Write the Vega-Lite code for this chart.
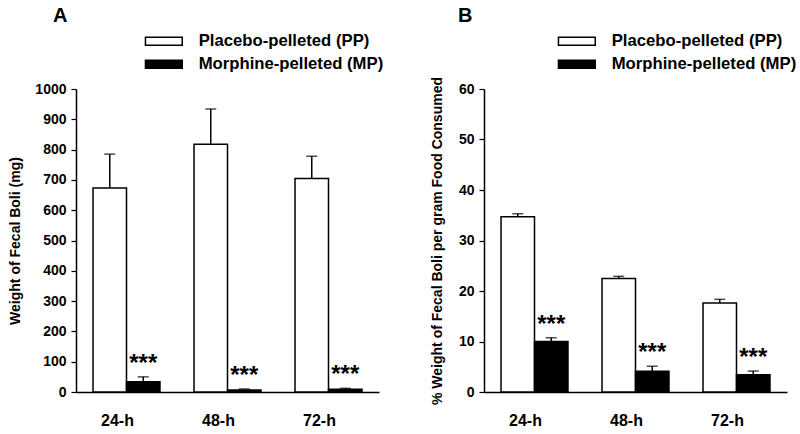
{
  "$schema": "https://vega.github.io/schema/vega-lite/v6.json",
  "background": "white",
  "padding": {"left": 8, "top": 6, "right": 5, "bottom": 0},
  "spacing": 46,
  "config": {
    "font": "Liberation Sans",
    "view": {"stroke": null},
    "axis": {"grid": false, "domainColor": "black", "domainWidth": 1.5, "tickColor": "black", "tickWidth": 1.2, "labelColor": "black", "titleColor": "black", "labelFontWeight": "bold", "titleFontWeight": "bold"},
    "legend": {"padding": 0, "labelFontSize": 16.7, "labelFontWeight": "bold", "labelColor": "black", "labelLimit": 0},
    "title": {"color": "black"}
  },
  "datasets": {
    "a": [
      {"time": "24-h", "group": "Placebo-pelleted (PP)", "value": 673, "err": 785, "sig": ""},
      {"time": "48-h", "group": "Placebo-pelleted (PP)", "value": 818, "err": 934, "sig": ""},
      {"time": "72-h", "group": "Placebo-pelleted (PP)", "value": 705, "err": 778, "sig": ""},
      {"time": "24-h", "group": "Morphine-pelleted (MP)", "value": 34, "err": 50, "sig": "***"},
      {"time": "48-h", "group": "Morphine-pelleted (MP)", "value": 7, "err": 10, "sig": "***"},
      {"time": "72-h", "group": "Morphine-pelleted (MP)", "value": 9, "err": 12, "sig": "***"}
    ],
    "b": [
      {"time": "24-h", "group": "Placebo-pelleted (PP)", "value": 34.7, "err": 35.3, "sig": ""},
      {"time": "48-h", "group": "Placebo-pelleted (PP)", "value": 22.5, "err": 22.9, "sig": ""},
      {"time": "72-h", "group": "Placebo-pelleted (PP)", "value": 17.6, "err": 18.35, "sig": ""},
      {"time": "24-h", "group": "Morphine-pelleted (MP)", "value": 10.0, "err": 10.75, "sig": "***"},
      {"time": "48-h", "group": "Morphine-pelleted (MP)", "value": 4.1, "err": 5.1, "sig": "***"},
      {"time": "72-h", "group": "Morphine-pelleted (MP)", "value": 3.4, "err": 4.15, "sig": "***"}
    ]
  },
  "resolve": {"scale": {"fill": "independent", "y": "independent"}, "legend": {"fill": "independent"}},
  "hconcat": [
    {
      "width": 303, "height": 303,
      "title": {"text": "A", "anchor": "start", "frame": "group", "fontSize": 20, "fontWeight": "bold", "dx": -23, "offset": 7},
      "data": {"name": "a"},
      "encoding": {
        "x": {"field": "time", "type": "nominal", "sort": null, "scale": {"paddingInner": 0.337, "paddingOuter": 0.1685},
              "axis": {"title": null, "labelAngle": 0, "ticks": false, "labelFontSize": 16, "labelPadding": 20, "labelOffset": -9}},
        "xOffset": {"field": "group", "type": "nominal", "sort": null, "scale": {"paddingInner": 0, "paddingOuter": 0}}
      },
      "layer": [
        {
          "mark": {"type": "bar", "stroke": "black", "strokeWidth": 1.5},
          "encoding": {
            "y": {"field": "value", "type": "quantitative", "scale": {"domain": [0, 1000], "nice": false},
                  "axis": {"title": "Weight of Fecal Boli (mg)", "titleFontSize": 14, "labelFontSize": 14, "format": "d", "tickCount": 10, "tickSize": 5, "labelPadding": 5, "titlePadding": 12}},
            "fill": {"field": "group", "type": "nominal", "sort": null,
                     "scale": {"domain": ["Placebo-pelleted (PP)", "Morphine-pelleted (MP)"], "range": ["white", "black"]},
                     "legend": {"title": null, "orient": "none", "legendX": 79.5, "legendY": -56, "symbolType": "M-4.6,-1H4.6V1H-4.6Z", "symbolSize": 64, "symbolStrokeColor": "black", "symbolStrokeWidth": 1.5, "labelOffset": 26.5, "rowPadding": 5}}
          }
        },
        {
          "mark": {"type": "rule", "color": "black", "strokeWidth": 1.5},
          "encoding": {"y": {"field": "value", "type": "quantitative"}, "y2": {"field": "err"}}
        },
        {
          "mark": {"type": "tick", "color": "black", "size": 11, "thickness": 1.5, "orient": "horizontal"},
          "encoding": {"y": {"field": "err", "type": "quantitative"}}
        },
        {
          "mark": {"type": "text", "fontSize": 24, "fontWeight": "bold", "baseline": "alphabetic", "dy": -6, "color": "black"},
          "encoding": {"y": {"field": "err", "type": "quantitative"}, "text": {"field": "sig"}}
        }
      ]
    },
    {
      "width": 303, "height": 303,
      "title": {"text": "B", "anchor": "start", "frame": "group", "fontSize": 20, "fontWeight": "bold", "dx": -26, "offset": 7},
      "data": {"name": "b"},
      "encoding": {
        "x": {"field": "time", "type": "nominal", "sort": null, "scale": {"paddingInner": 0.337, "paddingOuter": 0.1685},
              "axis": {"title": null, "labelAngle": 0, "ticks": false, "labelFontSize": 16, "labelPadding": 20, "labelOffset": -9}},
        "xOffset": {"field": "group", "type": "nominal", "sort": null, "scale": {"paddingInner": 0, "paddingOuter": 0}}
      },
      "layer": [
        {
          "mark": {"type": "bar", "stroke": "black", "strokeWidth": 1.5},
          "encoding": {
            "y": {"field": "value", "type": "quantitative", "scale": {"domain": [0, 60], "nice": false},
                  "axis": {"title": "% Weight of Fecal Boli per gram Food Consumed", "titleFontSize": 14, "labelFontSize": 14, "tickCount": 6, "tickSize": 5, "labelPadding": 5, "titlePadding": 14}},
            "fill": {"field": "group", "type": "nominal", "sort": null,
                     "scale": {"domain": ["Placebo-pelleted (PP)", "Morphine-pelleted (MP)"], "range": ["white", "black"]},
                     "legend": {"title": null, "orient": "none", "legendX": 84.5, "legendY": -56, "symbolType": "M-4.6,-1H4.6V1H-4.6Z", "symbolSize": 64, "symbolStrokeColor": "black", "symbolStrokeWidth": 1.5, "labelOffset": 26.5, "rowPadding": 5}}
          }
        },
        {
          "mark": {"type": "rule", "color": "black", "strokeWidth": 1.5},
          "encoding": {"y": {"field": "value", "type": "quantitative"}, "y2": {"field": "err"}}
        },
        {
          "mark": {"type": "tick", "color": "black", "size": 11, "thickness": 1.5, "orient": "horizontal"},
          "encoding": {"y": {"field": "err", "type": "quantitative"}}
        },
        {
          "mark": {"type": "text", "fontSize": 24, "fontWeight": "bold", "baseline": "alphabetic", "dy": -6, "color": "black"},
          "encoding": {"y": {"field": "err", "type": "quantitative"}, "text": {"field": "sig"}}
        }
      ]
    }
  ]
}
